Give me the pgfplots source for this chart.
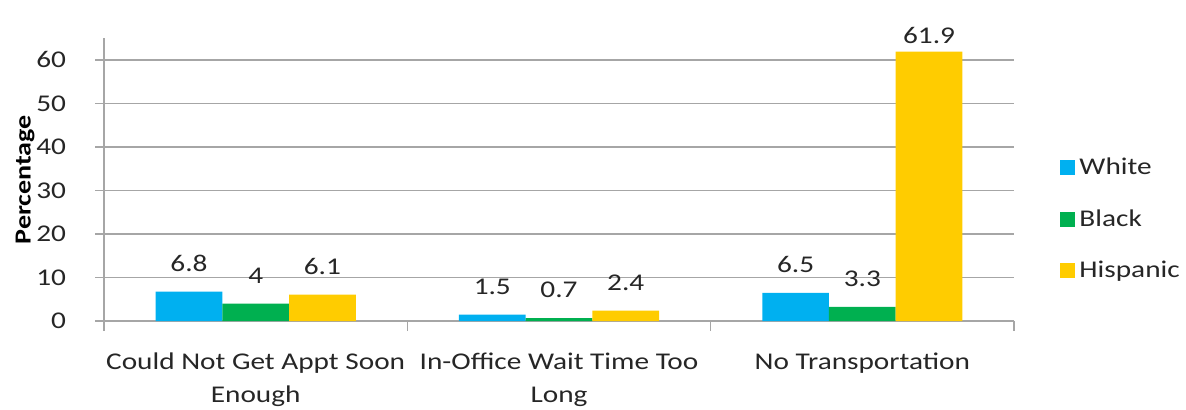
\documentclass[border=0pt]{standalone}
\usepackage{pgfplots}
\pgfplotsset{compat=1.18}
\usepackage{fontspec}
\setmainfont{Carlito}[FakeStretch=1.22]
\definecolor{cwhite}{HTML}{00B0F0}
\definecolor{cblack}{HTML}{00B050}
\definecolor{chisp}{HTML}{FFCC00}
\definecolor{gridgray}{HTML}{A6A6A6}
\definecolor{txt}{HTML}{262626}
\begin{document}
\begin{tikzpicture}
\begin{axis}[
    width=455pt, height=141.5pt, scale only axis,
    ybar=0pt, bar width=0.22,
    xmin=-0.5, xmax=2.5, ymin=0, ymax=65,
    xtick={0,1,2},
    xticklabels={{Could Not Get Appt Soon\\Enough},{In-Office Wait Time Too\\Long},{No Transportation}},
    x tick label style={align=center, yshift=-8pt},
    major x tick style={draw=none},
    minor xtick={-0.5,0.5,1.5,2.5},
    minor x tick style={gridgray, thick},
    minor tick length=5pt,
    ytick={0,10,...,60},
    y tick style={gridgray, thick},
    major tick length=4.5pt,
    tick align=outside,
    axis x line*=bottom, axis y line*=left,
    axis line style={gridgray, thick, -},
    ymajorgrids, grid style={gridgray, thick},
    ylabel={\bfseries Percentage},
    ylabel style={yshift=-6pt},
    tick label style={font=\fontsize{12}{16.5}\selectfont, text=txt},
    label style={font=\fontsize{11.5}{14}\selectfont, text=black},
    /pgf/number format/assume math mode=true,
    y tick label style={xshift=-11pt},
    nodes near coords,
    visualization depends on={value \coordindex \as \myidx},
    every node near coord/.append style={font=\fontsize{12}{14}\selectfont, text=txt, yshift=6.5pt},
    legend style={draw=none, fill=none, at={(rel axis cs:1.044,0.36)}, anchor=west,
        font=\fontsize{12}{14}\selectfont, text=txt, row sep=12pt,
        /tikz/every odd column/.append style={column sep=0pt}},
    legend cell align=left,
    legend image code/.code={\fill[#1] (0pt,-3.75pt) rectangle (7.5pt,3.75pt);},
    clip=false,
]
\addplot[fill=cwhite, draw=none] coordinates {(0,6.8) (1,1.5) (2,6.5)};
\addplot[fill=cblack, draw=none] coordinates {(0,4) (1,0.7) (2,3.3)};
\addplot[fill=chisp, draw=none, every node near coord/.append style={yshift={\myidx==2 ? -6 : 0}}] coordinates {(0,6.1) (1,2.4) (2,61.9)};
\legend{White,Black,Hispanic}
\coordinate (bl) at (rel axis cs:-0.1143,-0.3121);
\coordinate (tr) at (rel axis cs:1.189,1.1348);
\end{axis}
\pgfresetboundingbox
\path[use as bounding box] (bl) rectangle (tr);
\end{tikzpicture}
\end{document}
